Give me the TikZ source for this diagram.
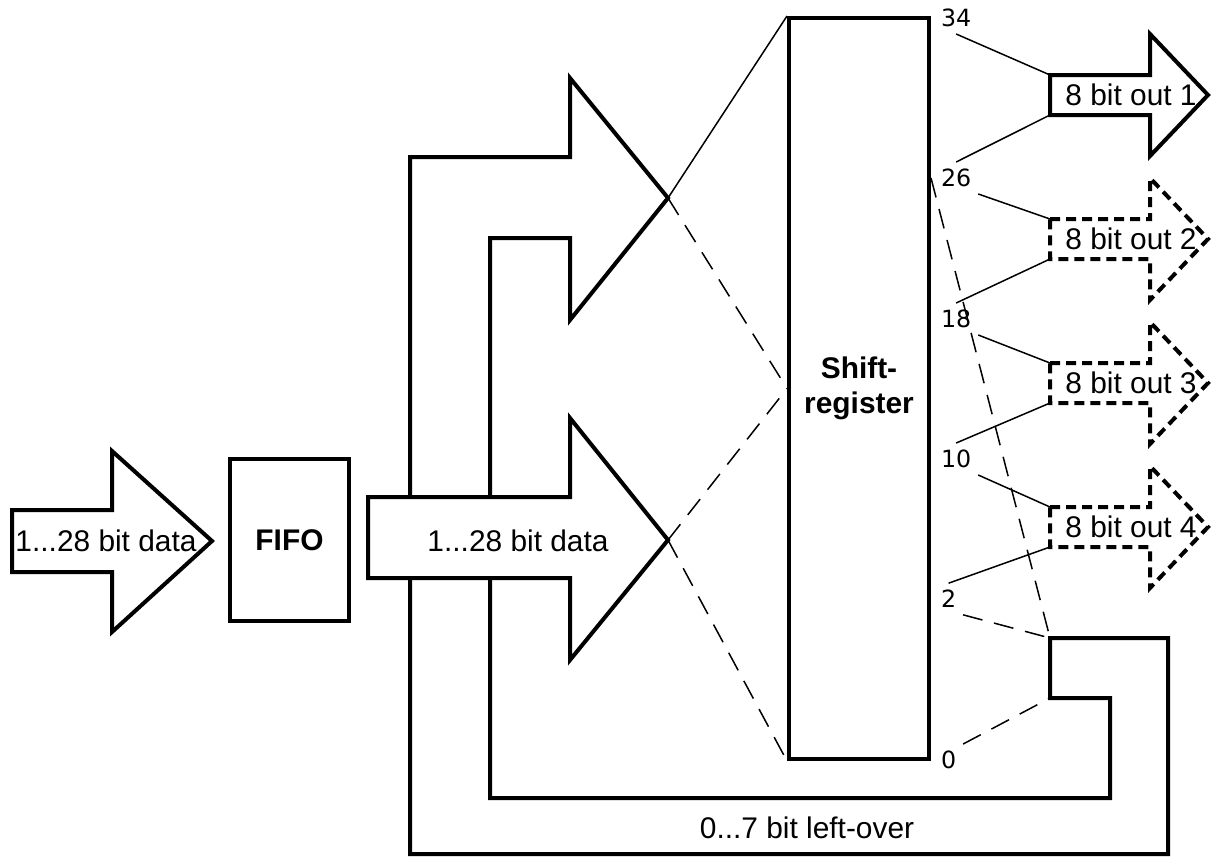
\documentclass[tikz,border=0pt]{standalone}
\usepackage{fontspec}
\setmainfont{Liberation Sans}
\newfontfamily\numfont{DejaVu Sans}

\begin{document}
\begin{tikzpicture}[
        %Environment config
        x=0.2mm, y=-0.2mm,
        font=\fontsize{17}{20}\selectfont,
        line width=0.8mm,
        %Environment styles
        BoxCfg/.style={
            draw,
            fill=white,
            inner sep=0pt,
            align=center,
            font=\fontsize{17}{20}\selectfont\bfseries
        },
        WireCfg/.style={line width=0.3mm},
        LeakCfg/.style={line width=0.3mm, dash pattern=on 4mm off 2.4mm},
        OutCfg/.style={dash pattern=on 2mm off 1.2mm},
        NumCfg/.style={font=\numfont\fontsize{13.5}{16}\selectfont, anchor=west, inner sep=1mm}
    ]
    \useasboundingbox (0,0) rectangle (1213,858);

    % incoming data and FIFO
    \draw (12,510) -- (112,510) -- (112,451) -- (212,541) -- (112,632) -- (112,572) -- (12,572) -- cycle;
    \path
        (106,541) node (InTxt) {1...28 bit data}
        (289.5,540) node[BoxCfg, minimum width=23.8mm, minimum height=32.4mm] (FIFO) {FIFO}
        (859,388.5) node[BoxCfg, minimum width=28mm, minimum height=148.2mm] (SR) {Shift-\\register};

    % feedback band with upper head and left-over end
    \draw
        (490,497) -- (490,238) -- (570,238) -- (570,320)
        -- (668,198) coordinate (UpTip)
        -- (570,78) -- (570,157) -- (410,157) -- (410,854) -- (1168,854) -- (1168,638)
        -- (1050,638) coordinate (LeftTop)
        -- (1050,698) coordinate (LeftBot)
        -- (1110,698) -- (1110,798) -- (490,798) -- cycle;
    \node at (807,828) (LeftTxt) {0...7 bit left-over};

    % data arrow from FIFO
    \draw[fill=white] (368,497) -- (570,497) -- (570,418)
        -- (668,540) coordinate (MidTip)
        -- (570,660) -- (570,578) -- (368,578) -- cycle;
    \node at (518,541) (MidTxt) {1...28 bit data};

    \draw[WireCfg] (UpTip) -- (SR.north west);
    \draw[LeakCfg]
        (UpTip) -- (SR.west)
        (MidTip) -- (SR.west)
        (MidTip) -- (SR.south west);

    % bit positions
    \foreach \n/\y in {34/18, 26/178, 18/319, 10/459, 2/599, 0/760}
        \path (934,\y) node[NumCfg] (L\n) {\n};

    % output arrows
    \foreach \i/\c/\s in {1/95/solid, 2/239/OutCfg, 3/383/OutCfg, 4/527/OutCfg} {
        \draw[\s] (1050,\c-20) coordinate (Top\i) -- (1150,\c-20) -- (1150,\c-61)
            -- (1208,\c) -- (1150,\c+61) -- (1150,\c+20)
            -- (1050,\c+20) coordinate (Bot\i) -- cycle;
        \node at (1131,\c) (Out\i) {8 bit out \i};
    }

    \draw[WireCfg]
        (L34.south) -- (Top1)
        (L26.north) -- (Bot1)
        (L26.south east) -- (Top2)
        (L18.north) -- (Bot2)
        (L18.south east) -- (Top3)
        (L10.north) -- (Bot3)
        (L10.south east) -- (Top4)
        (L2.north) -- (Bot4);
    \draw[LeakCfg]
        (SR.east |- L26) -- (LeftTop)
        (L2.south east) -- (LeftTop)
        (L0.north east) -- (LeftBot);
\end{tikzpicture}
\end{document}
